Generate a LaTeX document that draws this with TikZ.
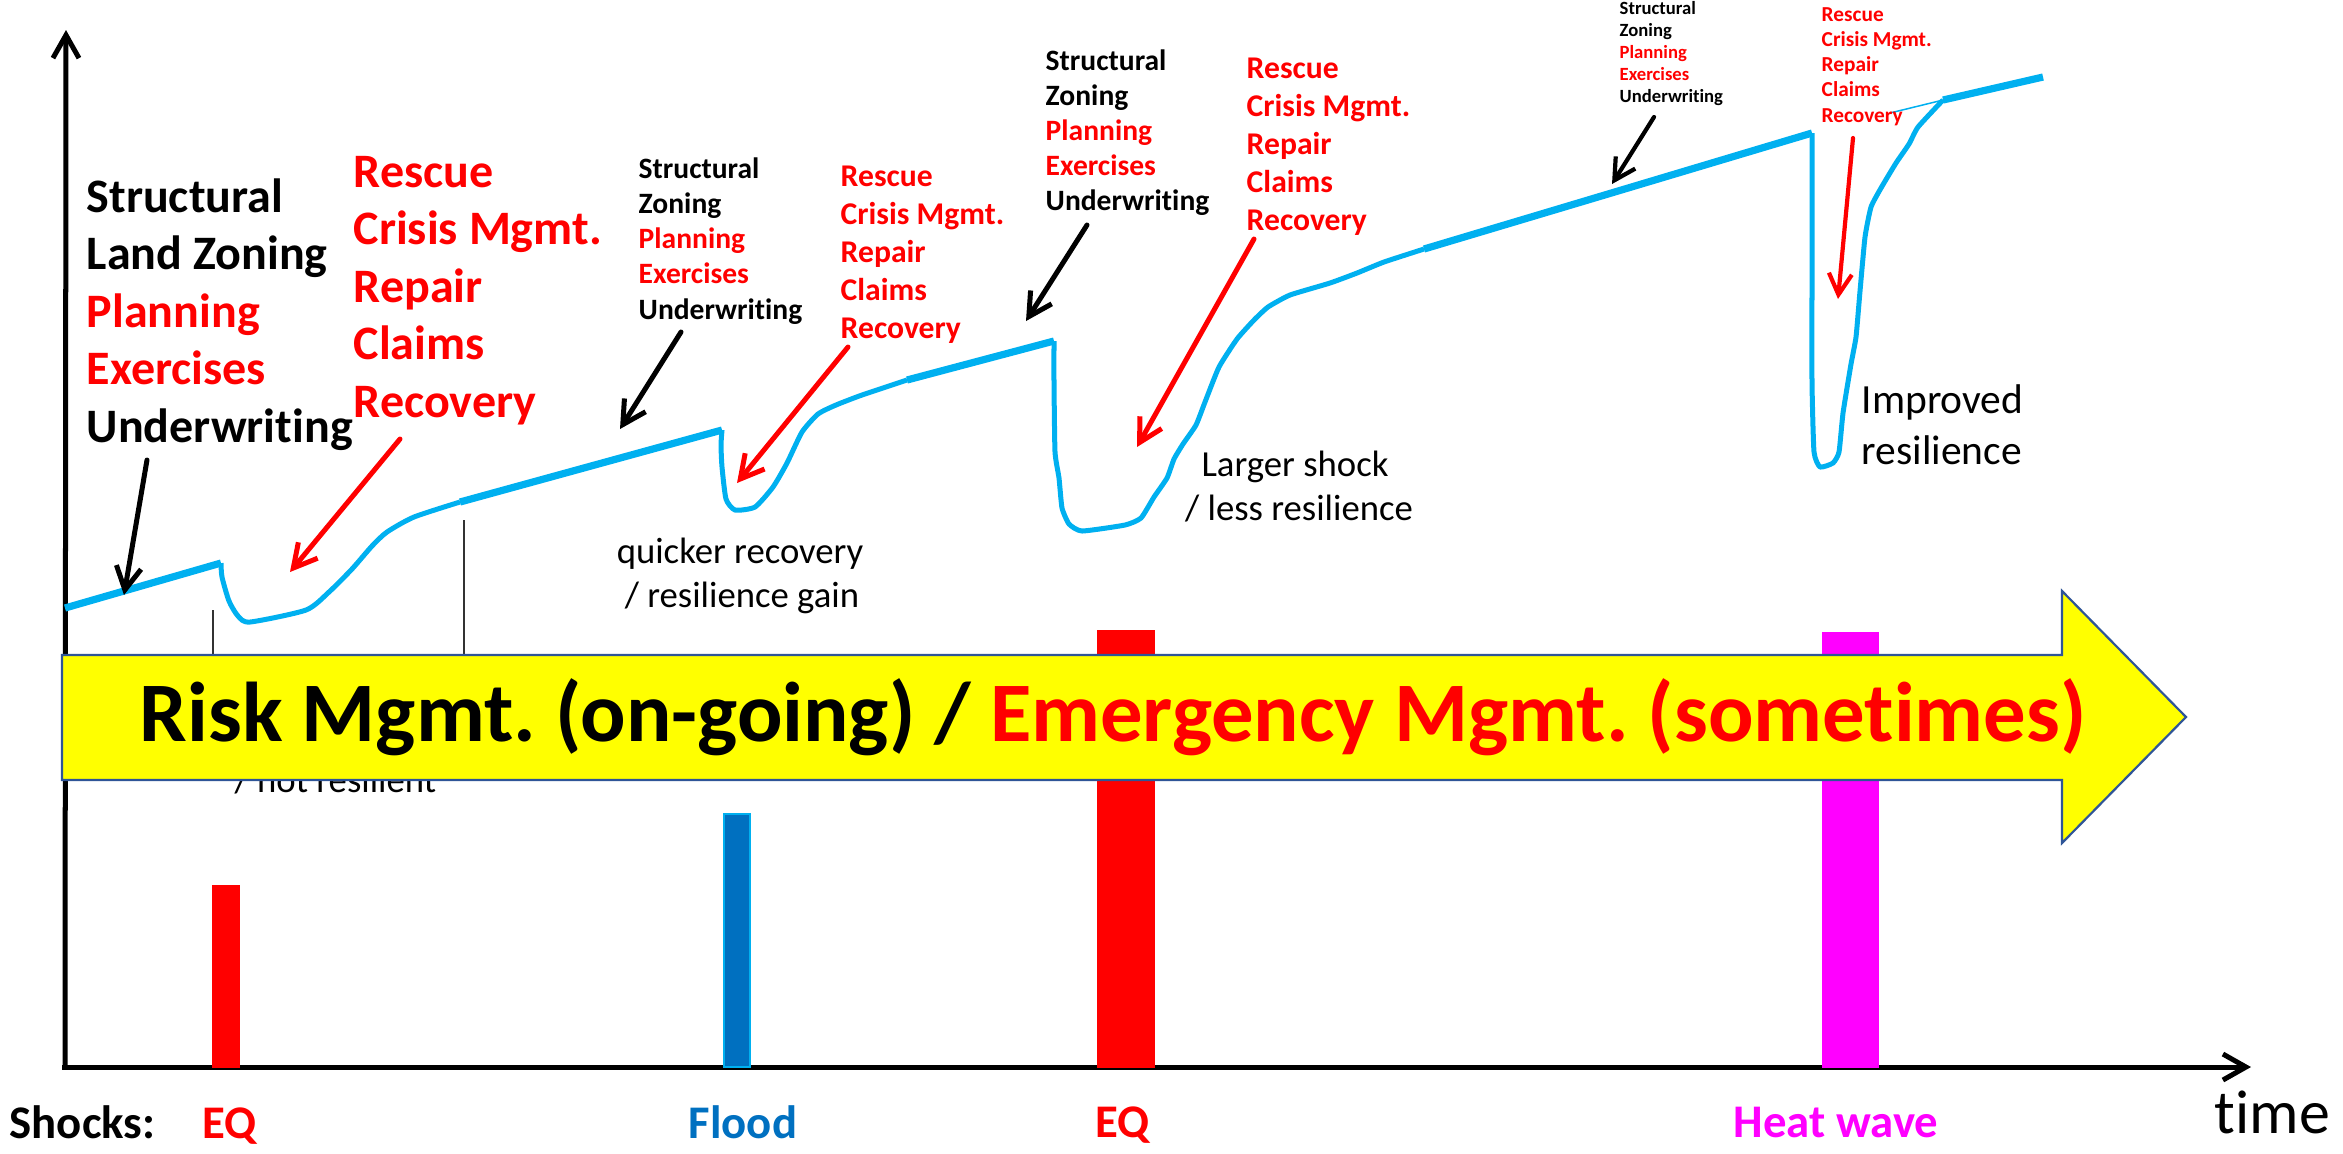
\documentclass[tikz,border=0pt]{standalone}
\usepackage{fontspec}
\setmainfont{Carlito}[Ligatures=NoCommon]
\usetikzlibrary{arrows.meta}
\definecolor{curveblue}{HTML}{00B0F0}
\definecolor{floodblue}{HTML}{0070C0}
\definecolor{bannerline}{HTML}{2F5597}
\definecolor{mred}{HTML}{FF0000}
\definecolor{mmag}{HTML}{FF00FF}
\definecolor{myellow}{HTML}{FFFF00}
\frenchspacing
\begin{document}
\begin{tikzpicture}[x=0.01cm,y=-0.01cm,
  axisline/.style={line width=0.5mm,black,-{Straight Barb[length=2.3mm,width=2.6mm]}},
  callout/.style={line width=0.5mm,line cap=round,-{Straight Barb[length=2.3mm,width=2.5mm]}},
  smallcallout/.style={line width=0.42mm,line cap=round,-{Straight Barb[length=2.1mm,width=2.3mm]}},
  curvethick/.style={curveblue,line width=0.72mm},
  curvethin/.style={curveblue,line width=0.5mm,line join=round},
  lbl/.style={inner sep=0pt,anchor=base west},
  bigb/.style={lbl,font=\fontsize{13.66pt}{16pt}\selectfont\bfseries},
  midb/.style={lbl,font=\fontsize{8.4pt}{10pt}\selectfont\bfseries},
  midr/.style={lbl,font=\fontsize{9.0pt}{11pt}\selectfont\bfseries},
  smlb/.style={lbl,font=\fontsize{5.3pt}{6.3pt}\selectfont\bfseries},
  smlr/.style={lbl,font=\fontsize{6.06pt}{7.2pt}\selectfont\bfseries},
  note/.style={inner sep=0pt,anchor=base,font=\fontsize{10.44pt}{12.5pt}\selectfont},
  shock/.style={lbl,font=\fontsize{13.3pt}{16pt}\selectfont\bfseries},
  bar/.style={draw=none}
]
\useasboundingbox (0,0) rectangle (2343,1153);

% axes
\coordinate (origin) at (65,1067);
\coordinate (ytop) at (66,30);
\coordinate (xend) at (2251,1067);
\draw[axisline] (origin) -- (ytop);
\draw[axisline] ([xshift=-0.25mm]origin) -- (xend);

% thin vertical lines
\coordinate (v1a) at (213,610); \coordinate (v1b) at (213,656);
\coordinate (v2a) at (464,520); \coordinate (v2b) at (464,656);
\draw[line width=0.3pt,black!80] (v1a) -- (v1b);
\draw[line width=0.3pt,black!80] (v2a) -- (v2b);

% partly hidden text under banner
\node[lbl,font=\fontsize{10.44pt}{12.5pt}\selectfont] (notres) at (234,792) {/ not resilient};

% shock bars
\fill[mred] (212,885) rectangle (240,1068);
\filldraw[fill=floodblue,draw=curveblue,line width=0.2mm] (724,814) rectangle (750,1067);
\fill[mred] (1097,630) rectangle (1155,1068);
\fill[mmag] (1822,632) rectangle (1879,1068);

% banner arrow
\filldraw[fill=myellow,draw=bannerline,line width=0.22mm]
  (62,655) -- (2062,655) -- (2062,591) -- (2186,717) -- (2062,843) -- (2062,780) -- (62,780) -- cycle;
\node[lbl,font=\fontsize{24.1pt}{28pt}\selectfont\bfseries] (banner) at (139,741)
  {\color{black}Risk Mgmt. (on-going) / \color{mred}Emergency Mgmt. (sometimes)};

% resilience curve
\coordinate (c0) at (65,608);
\coordinate (c1) at (221,563);
\coordinate (c2) at (460,502);
\coordinate (c3) at (722,430);
\coordinate (c4) at (907,380);
\coordinate (c5) at (1054,341);
\coordinate (c6) at (1424,249);
\coordinate (c7) at (1812,133);
\coordinate (c8) at (1943,100);
\coordinate (c9) at (2043,77);
\coordinate (c8b) at (1890,113);
\draw[curvethick] (c0) -- (c1);
\draw[curvethin] plot[smooth,tension=0.4] coordinates {(221,563) (222,577) (229,601) (238,616) (250,622) (306,610) (329,592) (352,569) (372,546) (387,532) (414,517) (460,502)};
\draw[curvethick] (c2) -- (c3);
\draw[curvethin] plot[smooth,tension=0.35] coordinates {(722,430) (721,445) (722,467) (726,499) (735,510) (755,507) (773,487) (787,463) (802,432) (818,414) (836,405) (862,395) (907,380)};
\draw[curvethick] (c4) -- (c5);
\draw[curvethin] plot[smooth,tension=0.3] coordinates {(1054,341) (1054,383) (1055,452) (1059,478) (1062,508) (1069,524) (1082,531) (1125,525) (1141,518) (1154,497) (1167,478) (1174,459) (1183,444) (1196,425) (1205,402) (1219,367) (1237,339) (1254,320) (1268,307) (1290,295) (1330,283) (1357,273) (1384,262) (1424,249)};
\draw[curvethick] (c6) -- (c7);
\draw[curvethin] plot[smooth,tension=0.3] coordinates {(1812,133) (1812,268) (1812,383) (1814,452) (1820,467) (1833,463) (1839,452) (1843,413) (1851,364) (1856,337) (1860,291) (1865,237) (1871,207) (1881,188) (1896,163) (1909,144) (1918,127) (1943,100)};
\draw[curvethick] (c8) -- (c9);
\draw[curveblue,line width=0.15mm] (c8b) -- (c8);

% block 1
\foreach \t/\c [count=\i] in {Structural/black,Land Zoning/black,Planning/mred,Exercises/mred,Underwriting/black}
  \node[bigb,text=\c] (ba\i) at (86,{212+(\i-1)*57.5}) {\t};
% block 2
\foreach \t [count=\i] in {Rescue,Crisis Mgmt.,Repair,Claims,Recovery}
  \node[bigb,text=mred] (bb\i) at (353,{187+(\i-1)*57.5}) {\t};
% block 3
\foreach \t/\c [count=\i] in {Structural/black,Zoning/black,Planning/mred,Exercises/mred,Underwriting/black}
  \node[midb,text=\c] (bc\i) at (638,{178+(\i-1)*35.3}) {\t};
% block 4
\foreach \t [count=\i] in {Rescue,Crisis Mgmt.,Repair,Claims,Recovery}
  \node[midr,text=mred] (bd\i) at (840,{186+(\i-1)*38}) {\t};
% block 5
\foreach \t/\c [count=\i] in {Structural/black,Zoning/black,Planning/mred,Exercises/mred,Underwriting/black}
  \node[midb,text=\c] (be\i) at (1045,{70+(\i-1)*35}) {\t};
% block 6
\foreach \t [count=\i] in {Rescue,Crisis Mgmt.,Repair,Claims,Recovery}
  \node[midr,text=mred] (bf\i) at (1246,{78+(\i-1)*38}) {\t};
% block 7
\foreach \t/\c [count=\i] in {Structural/black,Zoning/black,Planning/mred,Exercises/mred,Underwriting/black}
  \node[smlb,text=\c] (bg\i) at (1619,{14+(\i-1)*22.2}) {\t};
% block 8
\foreach \t [count=\i] in {Rescue,Crisis Mgmt.,Repair,Claims,Recovery}
  \node[smlr,text=mred] (bh\i) at (1821,{21+(\i-1)*25.3}) {\t};

% call-out arrows
\coordinate (a1s) at (147,460); \coordinate (a1t) at (124,595);
\coordinate (a2s) at (400,439); \coordinate (a2t) at (290,572);
\coordinate (a3s) at (681,332); \coordinate (a3t) at (620,429);
\coordinate (a4s) at (848,347); \coordinate (a4t) at (737,483);
\coordinate (a5s) at (1087,225); \coordinate (a5t) at (1026,321);
\coordinate (a6s) at (1254,239); \coordinate (a6t) at (1137,447);
\coordinate (a7s) at (1654,117); \coordinate (a7t) at (1612,184);
\coordinate (a8s) at (1853,138); \coordinate (a8t) at (1838,299);
\draw[callout,black] (a1s) -- (a1t);
\draw[callout,mred] (a2s) -- (a2t);
\draw[callout,black] (a3s) -- (a3t);
\draw[callout,mred] (a4s) -- (a4t);
\draw[callout,black] (a5s) -- (a5t);
\draw[callout,mred] (a6s) -- (a6t);
\draw[smallcallout,black] (a7s) -- (a7t);
\draw[smallcallout,mred] (a8s) -- (a8t);

% annotations
\node[note] (q1) at (740,563) {quicker recovery};
\node[note] (q2) at (742,607) {/ resilience gain};
\node[note] (l1) at (1295,476) {Larger shock};
\node[note] (l2) at (1299,520) {/ less resilience};
\node[lbl,font=\fontsize{11.8pt}{14pt}\selectfont] (i1) at (1861,413) {Improved};
\node[lbl,font=\fontsize{11.8pt}{14pt}\selectfont] (i2) at (1861,464) {resilience};

% shock labels
\node[shock] (sh) at (9,1138) {Shocks:};
\node[shock,text=mred] (eq1) at (202,1138) {EQ};
\node[shock,text=floodblue] (fl) at (688,1138) {Flood};
\node[shock,text=mred] (eq2) at (1095,1137) {EQ};
\node[shock,text=mmag] (hw) at (1733,1137) {Heat wave};
\node[lbl,font=\fontsize{17.6pt}{20pt}\selectfont] (time) at (2214,1133) {time};
\end{tikzpicture}
\end{document}
